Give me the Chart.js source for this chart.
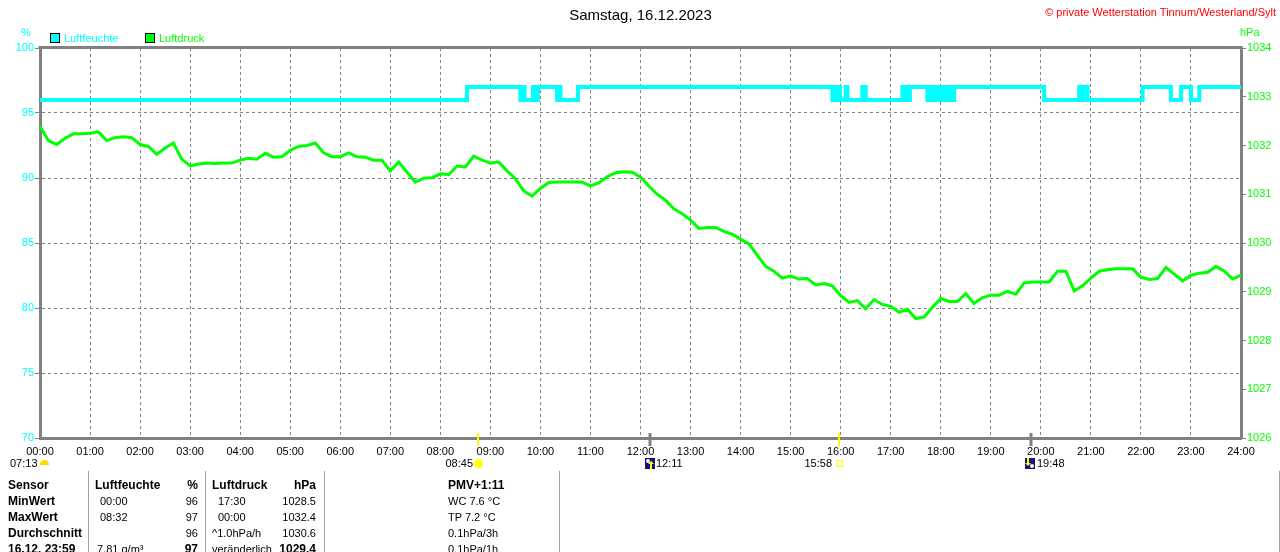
<!DOCTYPE html>
<html lang="de">
<head>
<meta charset="utf-8">
<title>Samstag, 16.12.2023</title>
<script src="https://cdn.jsdelivr.net/npm/chart.js@4.4.0/dist/chart.umd.min.js"></script>
<style>
body { margin: 0; background: #fff; }
#wrap { position: relative; width: 1280px; height: 552px; overflow: hidden; font-family: "Liberation Sans", Arial, sans-serif; font-size: 11px; color: #000; }
#wrap canvas { position: absolute; left: 0; top: 0; }
.t { position: absolute; white-space: nowrap; line-height: 14px; }
.b { font-weight: bold; font-size: 12px; }
.vl { position: absolute; top: 471px; height: 81px; width: 1px; background: #a0a0a0; }
.box { position: absolute; width: 8px; height: 8px; border: 1px solid #000; }
.moon { position: absolute; width: 10px; height: 11px; background: #14147a; overflow: hidden; }
.moon i { position: absolute; display: block; }
</style>
</head>
<body>
<div id="wrap">
  <canvas id="wxChart" width="1280" height="552"></canvas>
</div>
<script>
// Tageswerte Samstag 16.12.2023, Zeit in Minuten seit 00:00
const presStep = 10; // Minuten zwischen zwei Luftdruckwerten
const presValues = [
    1032.40, 1032.10, 1032.02, 1032.15, 1032.24, 1032.24, // 00
    1032.25, 1032.28, 1032.10, 1032.16, 1032.18, 1032.16, // 01
    1032.02, 1031.98, 1031.82, 1031.95, 1032.05, 1031.72, // 02
    1031.58, 1031.62, 1031.64, 1031.63, 1031.64, 1031.64, // 03
    1031.70, 1031.74, 1031.72, 1031.84, 1031.76, 1031.77, // 04
    1031.90, 1031.98, 1032.00, 1032.05, 1031.85, 1031.77, // 05
    1031.77, 1031.85, 1031.77, 1031.76, 1031.70, 1031.70, // 06
    1031.48, 1031.66, 1031.45, 1031.25, 1031.33, 1031.34, // 07
    1031.42, 1031.40, 1031.58, 1031.56, 1031.78, 1031.70, // 08
    1031.64, 1031.66, 1031.48, 1031.32, 1031.07, 1030.96, // 09
    1031.12, 1031.24, 1031.25, 1031.25, 1031.25, 1031.25, // 10
    1031.17, 1031.23, 1031.36, 1031.44, 1031.46, 1031.45, // 11
    1031.35, 1031.17, 1031.00, 1030.88, 1030.70, 1030.60, // 12
    1030.47, 1030.30, 1030.32, 1030.32, 1030.24, 1030.18, // 13
    1030.08, 1029.98, 1029.75, 1029.52, 1029.42, 1029.28, // 14
    1029.32, 1029.26, 1029.27, 1029.14, 1029.17, 1029.12, // 15
    1028.92, 1028.78, 1028.82, 1028.65, 1028.84, 1028.74, // 16
    1028.70, 1028.58, 1028.64, 1028.45, 1028.48, 1028.68, // 17
    1028.86, 1028.80, 1028.80, 1028.96, 1028.76, 1028.88, // 18
    1028.93, 1028.93, 1029.01, 1028.95, 1029.18, 1029.20, // 19
    1029.20, 1029.20, 1029.42, 1029.42, 1029.02, 1029.12, // 20
    1029.28, 1029.42, 1029.45, 1029.47, 1029.47, 1029.47, // 21
    1029.30, 1029.25, 1029.27, 1029.50, 1029.36, 1029.22, // 22
    1029.34, 1029.38, 1029.40, 1029.52, 1029.42, 1029.26, // 23
    1029.34
];

// Luftfeuchte springt nur zwischen 96 und 97 %, daher Umschaltzeitpunkte
const humTimes = [0, 512, 576, 579, 581, 591, 594, 597, 620, 622, 624, 645,
    950, 953, 955, 957, 959, 966, 968, 986, 990, 1034, 1036, 1038, 1040, 1043,
    1064, 1066, 1068, 1072, 1074, 1078, 1080, 1084, 1087, 1090, 1093, 1096,
    1204, 1246, 1249, 1251, 1256, 1322, 1356, 1368, 1380, 1390, 1440];
const humValues = [96, 97, 96, 97, 96, 97, 96, 97, 96, 97, 96, 97,
    96, 97, 96, 97, 96, 97, 96, 97, 96, 97, 96, 97, 96, 97,
    96, 97, 96, 97, 96, 97, 96, 97, 96, 97, 96, 97,
    96, 97, 96, 97, 96, 97, 96, 97, 96, 97, 97];

const humTicks = [70, 75, 80, 85, 90, 95, 100];
const presTicks = [1026, 1027, 1028, 1029, 1030, 1031, 1032, 1033, 1034];

// Sonnenaufgang 08:45, Mondaufgang 12:11, Sonnenuntergang 15:58, Monduntergang 19:48
const markerTimes = [525, 731, 958, 1188];
const markerColors = ['#ffff00', '#808080', '#ffff00', '#808080'];

const fontFamily = '"Liberation Sans", Arial, sans-serif';

let presData = presValues.map((v, i) => ({ x: i * presStep, y: v }));
let humData = humTimes.map((t, i) => ({ x: t, y: humValues[i] }));

// Rahmen oben und Markierungen auf der Zeitachse
const framePlugin = {
    id: 'frame',
    afterDraw(chart) {
        const { ctx, chartArea } = chart;
        const xs = chart.scales.x;
        ctx.save();
        ctx.strokeStyle = '#808080';
        ctx.lineWidth = 3;
        ctx.beginPath();
        ctx.moveTo(chartArea.left - 1.5, chartArea.top - 0.5);
        ctx.lineTo(chartArea.right + 1.5, chartArea.top - 0.5);
        ctx.stroke();
        markerTimes.forEach((t, i) => {
            const px = Math.round(xs.getPixelForValue(t));
            ctx.strokeStyle = markerColors[i];
            ctx.lineWidth = markerColors[i] === '#ffff00' ? 2 : 3;
            ctx.beginPath();
            ctx.moveTo(px, chartArea.bottom - 5);
            ctx.lineTo(px, chartArea.bottom + 8);
            ctx.stroke();
        });
        ctx.restore();
    }
};

let ctx = document.getElementById('wxChart').getContext('2d');
let wxChart = new Chart(ctx, {
    type: 'line',
    data: {
        datasets: [{
            label: 'Luftfeuchte',
            data: humData,
            yAxisID: 'y',
            borderColor: '#00ffff',
            borderWidth: 4,
            stepped: 'before',
            pointRadius: 0,
            fill: false
        }, {
            label: 'Luftdruck',
            data: presData,
            yAxisID: 'y1',
            borderColor: '#00ff00',
            borderWidth: 3,
            tension: 0,
            pointRadius: 0,
            fill: false
        }]
    },
    options: {
        responsive: false,
        animation: false,
        devicePixelRatio: 1,
        layout: { padding: { top: 48, left: 0, right: 0, bottom: 0 } },
        plugins: {
            legend: { display: false },
            title: { display: false },
            tooltip: { enabled: false }
        },
        scales: {
            x: {
                type: 'linear',
                min: 0,
                max: 1440,
                afterFit: s => { s.height = 114; },
                ticks: {
                    stepSize: 60,
                    autoSkip: false,
                    maxRotation: 0,
                    color: '#000',
                    padding: 7,
                    font: { family: fontFamily, size: 11 },
                    callback: v => String(v / 60).padStart(2, '0') + ':00'
                },
                grid: { color: '#808080', drawTicks: false },
                border: { color: '#808080', width: 3, dash: [3, 3] }
            },
            y: {
                position: 'left',
                min: humTicks[0],
                max: humTicks[humTicks.length - 1],
                afterFit: s => { s.width = 40; },
                afterBuildTicks: s => { s.ticks = humTicks.map(v => ({ value: v })); },
                ticks: { color: '#00ffff', padding: 1, font: { family: fontFamily, size: 11 }, callback: v => String(v) },
                grid: { color: '#808080', tickLength: 5, tickColor: '#808080' },
                border: { color: '#808080', width: 3, dash: [3, 3] }
            },
            y1: {
                position: 'right',
                min: presTicks[0],
                max: presTicks[presTicks.length - 1],
                afterFit: s => { s.width = 39; },
                afterBuildTicks: s => { s.ticks = presTicks.map(v => ({ value: v })); },
                ticks: { color: '#00ff00', padding: 1, font: { family: fontFamily, size: 11 }, callback: v => String(v) },
                grid: { drawOnChartArea: false, color: '#808080', tickLength: 5, tickColor: '#808080' },
                border: { color: '#808080', width: 3 }
            }
        }
    },
    plugins: [framePlugin]
});

// Texte rund um das Diagramm
const wrap = document.getElementById('wrap');
function put(x, y, text, opts) {
    opts = opts || {};
    let d = document.createElement('div');
    d.className = 't' + (opts.bold ? ' b' : '');
    d.textContent = text;
    d.style.top = (y - 7) + 'px';
    if (opts.right) d.style.right = (1280 - x) + 'px';
    else d.style.left = x + 'px';
    if (opts.color) d.style.color = opts.color;
    if (opts.size) d.style.fontSize = opts.size + 'px';
    if (opts.center) { d.style.left = '0'; d.style.width = '1281px'; d.style.textAlign = 'center'; }
    wrap.appendChild(d);
    return d;
}
function el(cls, style, html) {
    let d = document.createElement('div');
    d.className = cls;
    d.setAttribute('style', style);
    if (html) d.innerHTML = html;
    wrap.appendChild(d);
}

put(0, 15, 'Samstag, 16.12.2023', { center: true, size: 15 });
put(1276, 12, '\u00a9 private Wetterstation Tinnum/Westerland/Sylt', { right: true, color: '#ff0000' });
put(21, 32, '%', { color: '#00ffff' });
put(1240, 32, 'hPa', { color: '#00ff00' });

el('box', 'left:50px;top:33px;background:#00ffff;');
put(64, 38, 'Luftfeuchte', { color: '#00ffff' });
el('box', 'left:145px;top:33px;background:#00ff00;');
put(159, 38, 'Luftdruck', { color: '#00ff00' });

// Sonne und Mond unter der Zeitachse
put(10, 463, '07:13');
el('', 'position:absolute;left:40px;top:460px;width:9px;height:5px;border-radius:5px 5px 0 0;background:#ffd800;');
put(473, 463, '08:45', { right: true });
el('', 'position:absolute;left:473px;top:458px;width:11px;height:11px;border-radius:50%;background:radial-gradient(circle,#ffff00 0,#ffff00 45%,#ffffa0 60%,rgba(255,255,255,0) 72%);');
el('moon', 'left:645px;top:458px;', '<i style="left:1px;top:1px;width:4px;height:4px;border-radius:50%;background:#fff"></i><i style="left:5px;top:4px;width:2px;height:7px;background:#ffff00"></i><i style="left:3px;top:3px;width:0;height:0;border-left:3px solid transparent;border-right:3px solid transparent;border-bottom:3px solid #ffff00"></i>');
put(656, 463, '12:11');
put(832, 463, '15:58', { right: true });
el('', 'position:absolute;left:836px;top:460px;width:5px;height:5px;border:1px solid #ffff00;');
el('moon', 'left:1025px;top:458px;', '<i style="left:5px;top:6px;width:4px;height:4px;border-radius:50%;background:#fff"></i><i style="left:2px;top:0;width:2px;height:6px;background:#ffff00"></i><i style="left:0;top:5px;width:0;height:0;border-left:3px solid transparent;border-right:3px solid transparent;border-top:3px solid #ffff00"></i>');
put(1037, 463, '19:48');

// Tabelle mit Tageswerten
[88, 205, 324, 559, 1279].forEach(x => el('vl', 'left:' + x + 'px;'));
const rowY = [485, 501, 517, 533, 549];
const rowNames = ['Sensor', 'MinWert', 'MaxWert', 'Durchschnitt', '16.12. 23:59'];
const humTimesTbl = ['00:00', '08:32'];
const humVals = ['96', '97', '96'];
const presTimesTbl = ['17:30', '00:00'];
const presVals = ['1028.5', '1032.4', '1030.6'];
const extraInfo = ['PMV+1:11', 'WC 7.6 \u00b0C', 'TP 7.2 \u00b0C', '0.1hPa/3h', '0.1hPa/1h'];

rowNames.forEach((n, i) => put(8, rowY[i], n, { bold: true }));
put(95, rowY[0], 'Luftfeuchte', { bold: true });
put(198, rowY[0], '%', { bold: true, right: true });
put(212, rowY[0], 'Luftdruck', { bold: true });
put(316, rowY[0], 'hPa', { bold: true, right: true });
humTimesTbl.forEach((t, i) => put(100, rowY[i + 1], t));
humVals.forEach((v, i) => put(198, rowY[i + 1], v, { right: true }));
presTimesTbl.forEach((t, i) => put(218, rowY[i + 1], t));
presVals.forEach((v, i) => put(316, rowY[i + 1], v, { right: true }));
put(212, rowY[3], '^1.0hPa/h');
put(97, rowY[4], '7.81 g/m\u00b3');
put(198, rowY[4], '97', { bold: true, right: true });
put(212, rowY[4], 'ver\u00e4nderlich');
put(316, rowY[4], '1029.4', { bold: true, right: true });
extraInfo.forEach((s, i) => put(448, rowY[i], s, { bold: i === 0 }));
</script>
</body>
</html>
